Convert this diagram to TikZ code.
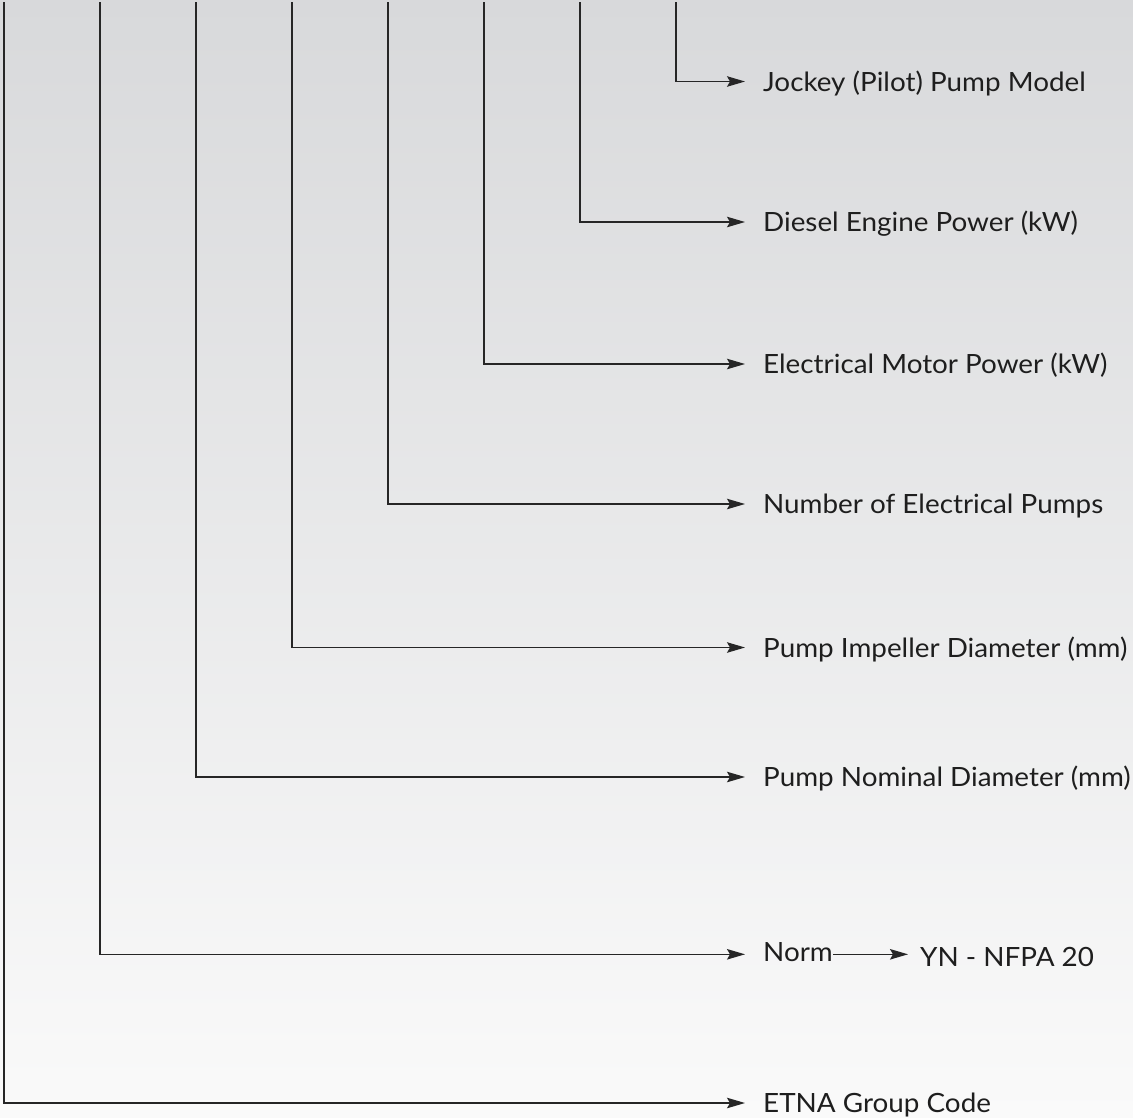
\documentclass[tikz,border=0pt]{standalone}
\usepackage{fontspec}
\setmainfont[FakeStretch=1.05]{Lato}
\usetikzlibrary{arrows.meta}
\definecolor{bgtop}{HTML}{D8D9DB}
\definecolor{bgbot}{HTML}{FAFAFA}
\definecolor{ink}{HTML}{1E1E1E}
\definecolor{wire}{HTML}{262626}
\tikzset{
  arr/.style={draw=wire, line width=1.3pt, -{Stealth[length=18pt,width=10.5pt,inset=3pt]}, shorten >=18pt},
  lab/.style={anchor=west, inner sep=0pt, text height=19pt, text depth=0pt, text=ink, font=\fontsize{26.5}{30}\selectfont},
}
\begin{document}
\begin{tikzpicture}[x=1pt,y=-1pt]
\shade[top color=bgtop, bottom color=bgbot] (0,0) rectangle (1133,1117);
\useasboundingbox (0,0) rectangle (1133,1117);
% tops of the vertical lines
\foreach \i/\x in {0/4,1/100,2/196,3/292,4/388,5/484,6/580,7/676}
  \coordinate (t\i) at (\x,2);
% labels
\node[lab] (l7) at (763,81.5) {Jockey (Pilot) Pump Model};
\node[lab] (l6) at (763,222) {Diesel Engine Power (kW)};
\node[lab] (l5) at (763,364) {Electrical Motor Power (kW)};
\node[lab] (l4) at (763,504) {Number of Electrical Pumps};
\node[lab] (l3) at (763,647.5) {Pump Impeller Diameter (mm)};
\node[lab] (l2) at (763,777) {Pump Nominal Diameter (mm)};
\node[lab, text depth=5pt] (l1) at (763,954.3) {Norm};
\node[lab, text height=23pt] (yn) at (920,954.5) {YN - NFPA 20};
\node[lab] (l0) at (763,1103) {ETNA Group Code};
% connectors
\foreach \i in {0,...,7}
  \draw[arr] (t\i) |- (l\i);
\draw[arr, shorten >=12pt] (l1.east) -- (l1.east -| yn.west);
\end{tikzpicture}
\end{document}
